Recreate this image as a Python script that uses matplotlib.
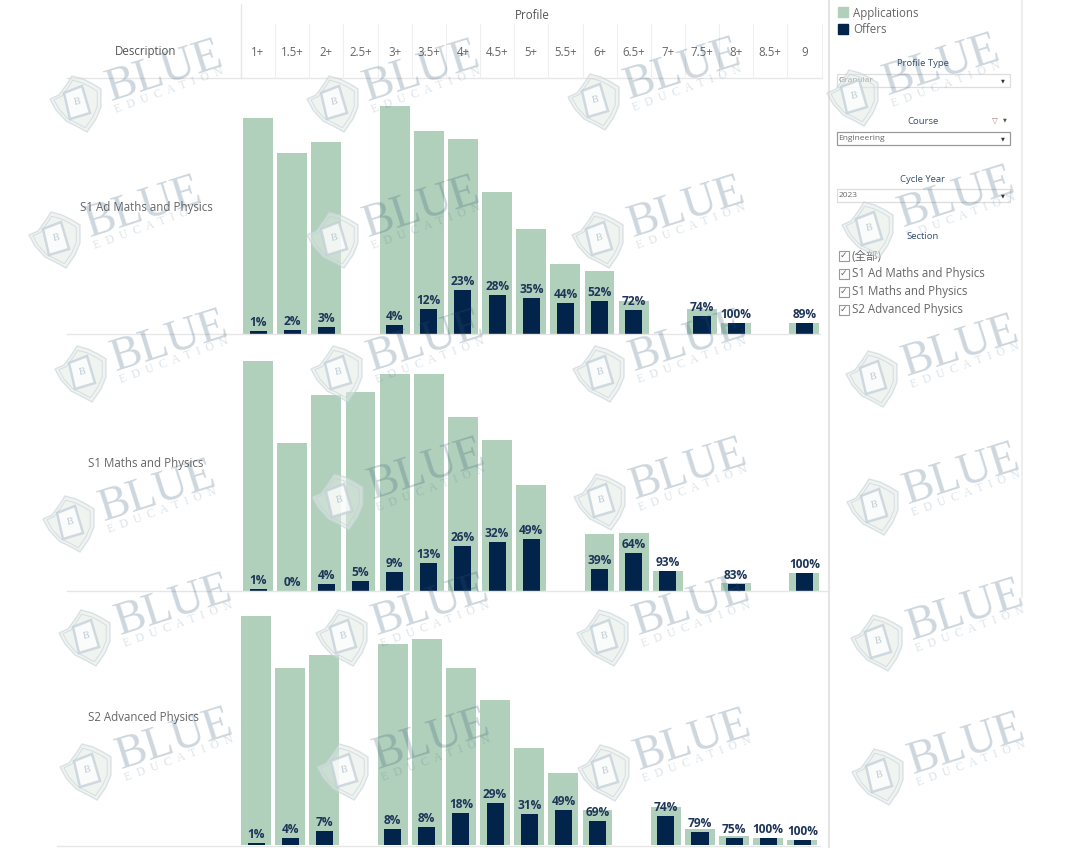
import matplotlib
matplotlib.use("Agg")
import matplotlib.pyplot as plt
from matplotlib.patches import Polygon, Rectangle

plt.rcParams["font.family"] = ["Open Sans", "Noto Sans CJK SC", "DejaVu Sans"]

profiles = ["1+", "1.5+", "2+", "2.5+", "3+", "3.5+", "4+", "4.5+", "5+", "5.5+",
            "6+", "6.5+", "7+", "7.5+", "8+", "8.5+", "9"]
sections = ["S1 Ad Maths and Physics", "S1 Maths and Physics", "S2 Advanced Physics"]

# bar heights, no value axis is shown; None = no bar
apps_ad = [216, 181, 192, None, 228, 203, 195, 142, 105, 70, 63, 33, None, 25, 11, None, 11]
offers_ad = [3, 4, 7, None, 9, 25, 44, 39, 36, 31, 33, 24, None, 18, 11, None, 11]
rates_ad = ["1%", "2%", "3%", None, "4%", "12%", "23%", "28%", "35%", "44%", "52%", "72%",
            None, "74%", "100%", None, "89%"]

apps_maths = [230, 148, 196, 199, 217, 217, 174, 151, 106, None, 57, 58, 20, None, 8, None, 18]
offers_maths = [2, 0, 7, 10, 19, 28, 45, 49, 52, None, 22, 38, 20, None, 7, None, 18]
rates_maths = ["1%", "0%", "4%", "5%", "9%", "13%", "26%", "32%", "49%", None, "39%", "64%",
               "93%", None, "83%", None, "100%"]

apps_adv = [229, 177, 190, None, 201, 206, 177, 145, 97, 72, 35, None, 38, 16, 9, 7, 5]
offers_adv = [2, 7, 14, None, 16, 18, 32, 42, 31, 35, 24, None, 29, 13, 7, 7, 5]
rates_adv = ["1%", "4%", "7%", None, "8%", "8%", "18%", "29%", "31%", "49%", "69%", None,
             "74%", "79%", "75%", "100%", "100%"]

filter_titles = ["Profile Type", "Course", "Cycle Year"]
filter_values = ["Granular", "Engineering", "2023"]
section_items = ["(全部)", "S1 Ad Maths and Physics", "S1 Maths and Physics", "S2 Advanced Physics"]

GREEN = "#b0d0bc"
NAVY = "#02234a"
LABEL = "#1d3557"
GREY = "#666666"
RULE = "#e6e6e6"
WM = "#c3ced8"
W, H = 1080, 848


def bar_panel(fig, left, right, top, base, apps, offers, rates):
    ax = fig.add_axes([left / W, 1 - base / H, (right - left) / W, (base - top) / H])
    for i in range(len(profiles)):
        if apps[i] is None:
            continue
        ax.bar(i, apps[i], width=0.875, color=GREEN, linewidth=0)
        ax.bar(i, offers[i], width=0.5, color=NAVY, linewidth=0)
        ax.annotate(rates[i], (i, offers[i]), xytext=(0, 1.5), textcoords="offset points",
                    ha="center", va="bottom", fontsize=8.6, fontweight="bold", color=LABEL)
    ax.set_xlim(-0.5, 16.5)
    ax.set_ylim(0, base - top)
    ax.axis("off")
    return ax


def watermark(ax, x, y):
    shield = [(-26, -5), (-17, -9), (-9, -20), (-4, -28), (7, -25), (17, -20), (25, -15),
              (25, 3), (20, 15), (11, 28), (2, 23), (-10, 17), (-20, 6)]
    ax.add_patch(Polygon([(x + a, y + b) for a, b in shield], closed=True, facecolor="#e2ebe5",
                         edgecolor=WM, linewidth=1.0, alpha=0.55, zorder=20))
    ax.add_patch(Polygon([(x + 0.85 * a, y + 0.85 * b) for a, b in shield], closed=True,
                         fill=False, edgecolor=WM, linewidth=0.7, alpha=0.6, zorder=20))
    book = [(-12, -11), (6, -18), (14, 9), (-6, 15)]
    ax.add_patch(Polygon([(x + a, y + b) for a, b in book], closed=True, facecolor="white",
                         edgecolor=WM, linewidth=1.8, alpha=0.75, zorder=21))
    ax.text(x + 1, y - 2, "B", family="Liberation Serif", fontsize=7, color="#aebcc8", alpha=0.8,
            ha="center", va="center", rotation=12, zorder=22)
    ax.text(x + 35, y - 3, "BLUE", family="Liberation Serif", fontsize=33, color="#2f5573",
            alpha=0.24, rotation=17.5, rotation_mode="anchor", ha="left", va="baseline", zorder=22)
    ax.text(x + 40, y + 9, "E  D  U  C  A  T  I  O  N", family="Liberation Serif", fontsize=8.5,
            color="#2f5573", alpha=0.17, rotation=20, rotation_mode="anchor", ha="left",
            va="baseline", zorder=22)


fig = plt.figure(figsize=(W / 100, H / 100), dpi=100)

bar_panel(fig, 241, 821.5, 80, 334, apps_ad, offers_ad, rates_ad)
bar_panel(fig, 241, 821.5, 340, 591, apps_maths, offers_maths, rates_maths)
bar_panel(fig, 239, 819.5, 600, 845, apps_adv, offers_adv, rates_adv)

# page furniture and watermarks are drawn in pixel coordinates on top of the bars
top = fig.add_axes([0, 0, 1, 1], zorder=5)
top.set_xlim(0, W)
top.set_ylim(H, 0)
top.axis("off")
top.patch.set_alpha(0)

top.plot([67, 822], [78, 78], color=RULE, lw=1)
top.plot([241, 241], [4, 78], color=RULE, lw=1)
for i in range(1, 18):
    xb = 241 + i * 34.15
    top.plot([xb, xb], [24, 78], color="#efefef", lw=0.8)
for i, name in enumerate(profiles):
    top.text(258 + i * 34.15, 52, name, fontsize=8.3, color=GREY, ha="center", va="center")
top.text(532, 15.5, "Profile", fontsize=8.3, color="#555555", ha="center", va="center")
top.text(146, 52, "Description", fontsize=8.3, color="#555555", ha="center", va="center")

top.plot([67, 820], [334, 334], color=RULE, lw=1)
top.plot([67, 829], [591, 591], color=RULE, lw=1)
top.plot([57, 820], [846, 846], color=RULE, lw=1)
top.plot([829, 829], [0, 848], color="#e4e4e4", lw=1.5)
top.plot([1022, 1022], [0, 597], color="#eeeeee", lw=1.5)

for name, xt, yt in zip(sections, [146, 146, 143], [207, 463, 718]):
    top.text(xt, yt, name, fontsize=8.3, color=GREY, ha="center", va="center")

# legend
top.add_patch(Rectangle((838, 7), 10, 10, color=GREEN))
top.add_patch(Rectangle((838, 24), 10, 10, color=NAVY))
top.text(853, 13, "Applications", fontsize=8.3, color=GREY, va="center")
top.text(853, 29.5, "Offers", fontsize=8.3, color=GREY, va="center")

# filter controls
for name, value, yt, yb in zip(filter_titles, filter_values, [64, 121.5, 179.5], [74, 132, 189]):
    top.text(923, yt, name, fontsize=6.8, color="#34506f", ha="center", va="center")
    edge = "#999999" if name == "Course" else "#dddddd"
    top.add_patch(Rectangle((836.5, yb), 173.5, 13, facecolor="white", edgecolor=edge, lw=0.9))
    top.text(838.5, yb + 6.5, value, fontsize=6, color="#666666", va="center")
    top.text(1003, yb + 6.5, "▼", family="DejaVu Sans", fontsize=3.6, color="#333333", ha="center", va="center")
top.text(995, 120.5, "▽", family="DejaVu Sans", fontsize=5.5, color="#b08080", ha="center", va="center")
top.text(1005, 120, "▼", family="DejaVu Sans", fontsize=3.6, color="#555555", ha="center", va="center")

top.text(923, 236.5, "Section", fontsize=6.8, color="#34506f", ha="center", va="center")
for i, name in enumerate(section_items):
    yc = 255.5 + i * 18
    top.add_patch(Rectangle((838.5, yc - 5), 10, 10, facecolor="white", edgecolor="#999999", lw=0.8))
    top.text(843.5, yc, "✓", family="DejaVu Sans", fontsize=6.5, color="#666666", ha="center", va="center")
    top.text(852, yc + 0.5, name, fontsize=8.3, color=GREY, va="center")

marks = [(76, 104), (333, 104), (594, 102), (853, 98),
         (55, 240), (333, 240), (598, 240), (868, 230),
         (81, 374), (337, 374), (599, 374), (872, 379),
         (69, 524), (338, 502), (600, 502), (873, 507),
         (85, 638), (342, 638), (603, 638), (877, 643),
         (86, 772), (343, 772), (604, 773), (878, 777)]
for mx, my in marks:
    watermark(top, mx, my)

fig.savefig("out.png", dpi=100)
